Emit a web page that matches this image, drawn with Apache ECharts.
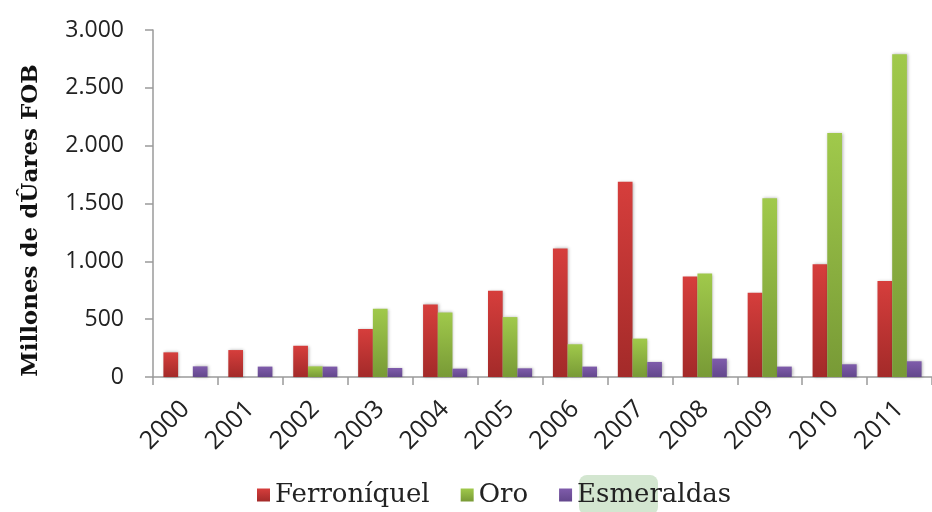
<!DOCTYPE html>
<html>
<head>
<meta charset="utf-8">
<script src="https://cdn.jsdelivr.net/npm/echarts@6/dist/echarts.min.js"></script>
<style>html,body{margin:0;padding:0;background:#fff}#c{width:932px;height:512px}</style>
</head>
<body>
<div id="c"></div>
<script>
var years = ['2000','2001','2002','2003','2004','2005','2006','2007','2008','2009','2010','2011'];
var ferroniquel = [213, 233, 270, 415, 627, 745, 1112, 1689, 868, 729, 974, 830];
var oro = [0, 0, 92, 590, 558, 518, 283, 332, 894, 1545, 2110, 2790];
var esmeraldas = [92, 90, 90, 78, 72, 75, 90, 130, 159, 90, 110, 136];
var yTicks = ['0','500','1.000','1.500','2.000','2.500','3.000'];
var yTitle = 'Millones de dÛares FOB';

function grad(top, bottom) {
  return new echarts.graphic.LinearGradient(0, 0, 0, 1, [
    {offset: 0, color: top}, {offset: 1, color: bottom}
  ]);
}
var chart = echarts.init(document.getElementById('c'));
var barStyle = function (t, b) {
  return {color: grad(t, b), shadowBlur: 3, shadowColor: 'rgba(0,0,0,0.3)', shadowOffsetX: 1, shadowOffsetY: 0};
};
chart.setOption({
  animation: false,
  color: ['#c9393a', '#95c043', '#7652a0'],
  graphic: [{
    type: 'rect', z: 0,
    shape: {x: 579, y: 475, width: 79, height: 40, r: 8},
    style: {fill: '#d3e6d0'}
  }],
  legend: {
    left: 252, top: 477,
    itemWidth: 13, itemHeight: 13, itemGap: 31,
    icon: 'rect',
    textStyle: {fontFamily: 'DejaVu Serif', fontSize: 26, color: '#222'},
    data: ['Ferroníquel', 'Oro', 'Esmeraldas']
  },
  grid: {left: 153, top: 30, width: 786, height: 347, containLabel: false},
  xAxis: {
    type: 'category', data: years,
    axisLine: {lineStyle: {color: '#9a9a9a', width: 1.5}},
    axisTick: {show: true, length: 8, lineStyle: {color: '#9a9a9a', width: 1.5}},
    axisLabel: {rotate: 45, fontFamily: 'Open Sans', fontSize: 25, color: '#222', margin: 28,
      formatter: function (v) { return v; }}
  },
  yAxis: {
    type: 'value', min: 0, max: 3000, interval: 500,
    name: yTitle, nameLocation: 'middle', nameGap: 110, nameRotate: 90,
    nameTextStyle: {fontFamily: 'DejaVu Serif', fontWeight: 'bold', fontSize: 23, color: '#111',
      padding: [0, 34, 0, 0]},
    splitLine: {show: false},
    axisLine: {show: true, lineStyle: {color: '#9a9a9a', width: 1.5}},
    axisTick: {show: true, length: 8, lineStyle: {color: '#9a9a9a', width: 1.5}},
    axisLabel: {fontFamily: 'Open Sans', fontSize: 23, color: '#222', margin: 29,
      formatter: function (v) { return yTicks[Math.round(v / 500)]; }}
  },
  series: [
    {name: 'Ferroníquel', type: 'bar', data: ferroniquel, barWidth: 14.7, barGap: '0%',
      itemStyle: barStyle('#d63e3c', '#a32a29')},
    {name: 'Oro', type: 'bar', data: oro, barWidth: 14.7, barGap: '0%',
      itemStyle: barStyle('#a0c94b', '#789a36')},
    {name: 'Esmeraldas', type: 'bar', data: esmeraldas, barWidth: 14.7, barGap: '0%',
      itemStyle: barStyle('#7f5cab', '#63478c')}
  ]
});
</script>
</body>
</html>
